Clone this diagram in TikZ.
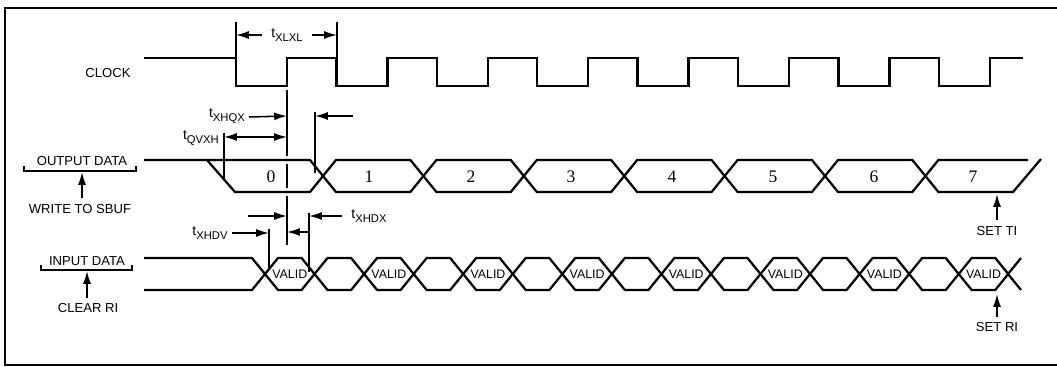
\documentclass[tikz,border=0pt]{standalone}
\usepackage{fontspec}
\setmainfont{Liberation Sans}
\newfontfamily\digitfont{Liberation Serif}
\usetikzlibrary{arrows.meta}
\newcommand{\tname}[1]{t\raisebox{-0.45ex}{\fontsize{8}{8}\selectfont #1}}
\tikzset{
	signal/.style = {
		line width=1.6pt,
		line join=miter
	},
	guide/.style = {
		line width=1.1pt
	},
	dimarrow/.style = {
		guide,
		-{Latex[length=3.2mm,width=2mm]}
	},
	dimboth/.style = {
		guide,
		{Latex[length=3.2mm,width=2mm]}-{Latex[length=3.2mm,width=2mm]}
	},
	signame/.style = {
		inner sep=0pt,
		font=\fontsize{9.3}{9.3}\selectfont
	},
	tlabel/.style = {
		inner sep=0pt,
		font=\fontsize{9.8}{9.8}\selectfont
	},
	bitval/.style = {
		inner sep=0pt,
		font=\digitfont\fontsize{12.5}{12.5}\selectfont
	},
	validtxt/.style = {
		inner sep=0pt,
		font=\fontsize{8.8}{8.8}\selectfont
	},
}
\begin{document}
\begin{tikzpicture}[x=0.025cm, y=-0.025cm]
\useasboundingbox (0,0) rectangle (1057,367);
\draw[line width=1.5pt] (1057,8) -- (5,8) -- (5,365) -- (1057,365);

% clock
\draw[signal] (144,58)
	\foreach \k in {0,...,7} {
		-- ({236+100.4*\k},58) -- ({236+100.4*\k},86) -- ({287+100.4*\k},86) -- ({287+100.4*\k},58)
	} -- (1023,58);

% output data
\draw[signal] (207,160) -- (235,192) -- (310,192) -- (323,176) -- (310,160) -- (144,160);
\foreach \k in {0,...,5} {
	\pgfmathsetmacro\ca{323+100.4*\k}
	\pgfmathsetmacro\cb{323+100.4*(\k+1)}
	\draw[signal] (\ca,176) -- (\ca+13,160) -- (\cb-13,160) -- (\cb,176) -- (\cb-13,192) -- (\ca+13,192) -- cycle;
}
\draw[signal] (1028,160) -- (938.4,160) -- (925.4,176) -- (938.4,192) -- (1013,192) -- (1041,159);
\foreach \v/\x in {0/271,1/369,2/471,3/571,4/672,5/773,6/874,7/973}
	\node[bitval] (bit\v) at (\x,177) {\v};

% input data
\draw[signal] (144,258) -- (252,258) -- (265,274) -- (252,290) -- (144,290);
\foreach \k in {0,...,14} {
	\pgfmathsetmacro\ca{265+49.55*\k}
	\pgfmathsetmacro\cb{265+49.55*(\k+1)}
	\draw[signal] (\ca,274) -- (\ca+13,258) -- (\cb-13,258) -- (\cb,274) -- (\cb-13,290) -- (\ca+13,290) -- cycle;
}
\draw[signal] (1021,258) -- (1008,274) -- (1021,290);
\foreach \j in {0,...,7}
	\node[validtxt] (valid\j) at ({289.8+99.1*\j},274) {VALID};

% signal names
\node[signame] (clock) at (108,73) {CLOCK};
\node[signame] (outdata) at (82,161) {OUTPUT DATA};
\draw[guide] (24,166) -- (24,171) -- (136,171) -- (136,166);
\node[signame] (wsbuf) at (80,209) {WRITE TO SBUF};
\coordinate (wsbufTail) at (82,198);
\coordinate (wsbufHead) at (82,172);
\draw[dimarrow] (wsbufTail) -- (wsbufHead);
\node[signame] (indata) at (87,261) {INPUT DATA};
\draw[guide] (41,265) -- (41,270) -- (132,270) -- (132,265);
\node[signame] (clrri) at (88,308) {CLEAR RI};
\coordinate (clrriTail) at (87,298);
\coordinate (clrriHead) at (87,271);
\draw[dimarrow] (clrriTail) -- (clrriHead);
\node[signame] (setti) at (997,231) {SET TI};
\coordinate (settiTail) at (997,220);
\coordinate (settiHead) at (997,194);
\draw[dimarrow] (settiTail) -- (settiHead);
\node[signame] (setri) at (997,327) {SET RI};
\coordinate (setriTail) at (997,317);
\coordinate (setriHead) at (997,294);
\draw[dimarrow] (setriTail) -- (setriHead);

% t_XLXL
\coordinate (xlA) at (236,22);
\coordinate (xlB) at (337,22);
\draw[guide] (xlA) -- (236,58);
\draw[guide] (xlB) -- (337,58);
\node[tlabel] (txlxl) at (287,35) {\tname{XLXL}};
\draw[dimarrow] (262,35) -- (xlA |- txlxl);
\draw[dimarrow] (312,35) -- (xlB |- txlxl);

% clock edge reference line
\coordinate (edge) at (287,90);
\draw[guide] (edge) -- (287,156) (287,164) -- (287,188) (287,196) -- (287,245);

% t_XHQX, t_QVXH
\coordinate (qxEnd) at (315,112);
\draw[guide] (qxEnd) -- (315,173);
\node[tlabel] (txhqx) at (227,116) {\tname{XHQX}};
\draw[dimarrow] (249,117) -- (edge |- txhqx);
\draw[dimarrow] (353,116) -- (qxEnd |- txhqx);
\coordinate (qvStart) at (224,133);
\draw[guide] (qvStart) -- (224,180);
\node[tlabel] (tqvxh) at (201,138) {\tname{QVXH}};
\draw[dimboth] (224,137) -- (287,137);

% t_XHDV, t_XHDX
\coordinate (dvStart) at (269,229);
\draw[guide] (dvStart) -- (269,270);
\node[tlabel] (txhdv) at (210,233) {\tname{XHDV}};
\draw[dimarrow] (232,233) -- (dvStart |- txhdv);
\coordinate (dxStart) at (309,213);
\draw[guide] (dxStart) -- (309,272);
\node[tlabel] (txhdx) at (369,216) {\tname{XHDX}};
\draw[dimarrow] (248,216) -- (edge |- txhdx);
\draw[dimarrow] (342,216) -- (dxStart |- txhdx);
\draw[dimarrow] (309,232) -- (287,232);
\end{tikzpicture}
\end{document}
